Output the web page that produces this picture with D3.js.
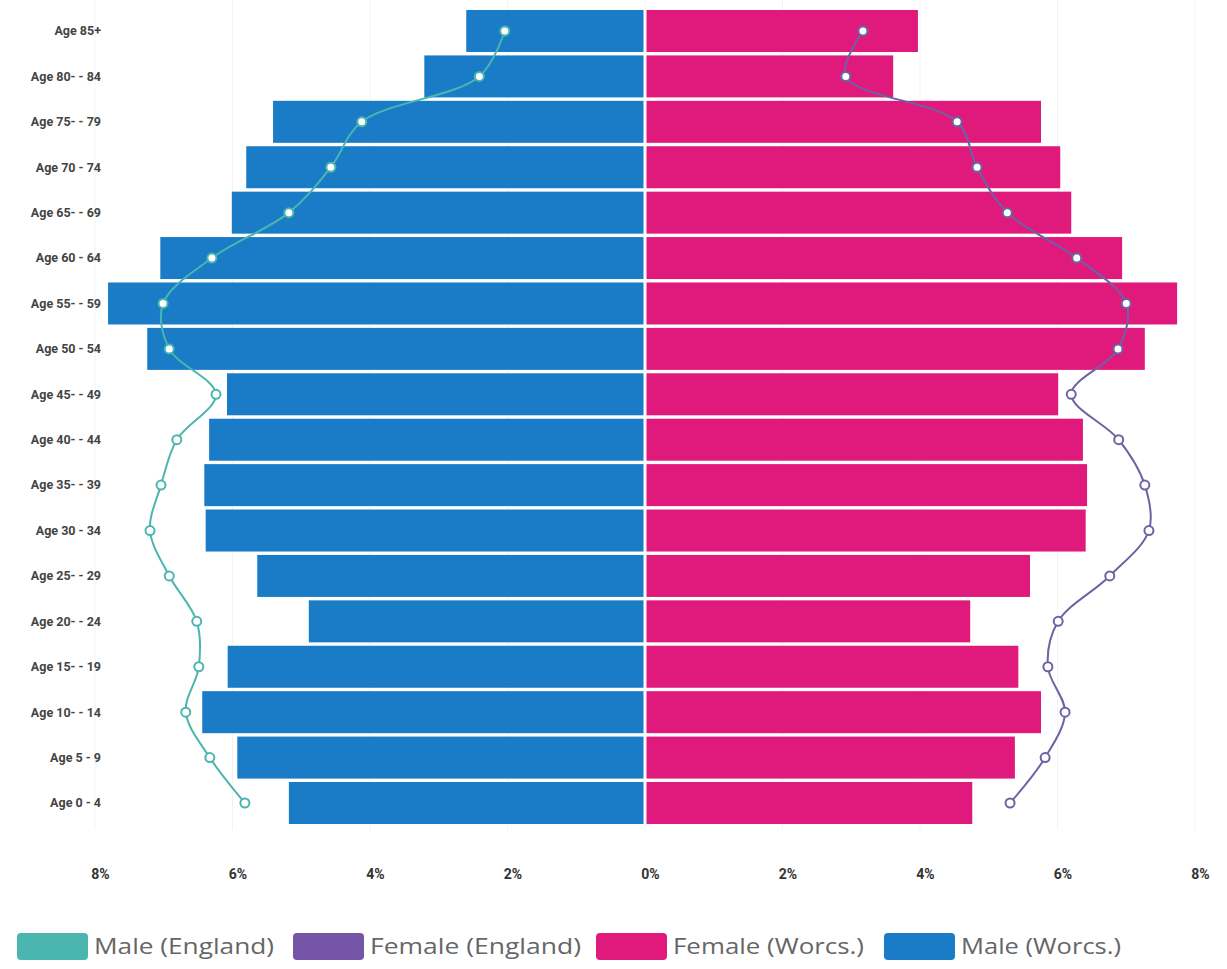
<!DOCTYPE html>
<html><head><meta charset="utf-8">
<script src="https://cdn.jsdelivr.net/npm/d3@7/dist/d3.min.js"></script>
<style>body{margin:0;background:#fff}svg{display:block}</style>
</head><body>
<svg id="c" width="1227" height="969"></svg>
<script>
const ageGroups = ["Age 85+","Age 80- - 84","Age 75- - 79","Age 70 - 74","Age 65- - 69","Age 60 - 64","Age 55- - 59","Age 50 - 54","Age 45- - 49","Age 40- - 44","Age 35- - 39","Age 30 - 34","Age 25- - 29","Age 20- - 24","Age 15- - 19","Age 10- - 14","Age 5 - 9","Age 0 - 4"];
const maleWorcs   = [2.60,3.21,5.41,5.80,6.01,7.05,7.81,7.24,6.08,6.34,6.41,6.39,5.64,4.89,6.07,6.44,5.93,5.18];
const femaleWorcs = [3.97,3.61,5.76,6.04,6.20,6.94,7.74,7.27,6.01,6.37,6.43,6.41,5.60,4.73,5.43,5.76,5.38,4.76];
const maleEngland = [2.04,2.41,4.12,4.57,5.18,6.30,7.01,6.92,6.24,6.81,7.04,7.20,6.92,6.52,6.49,6.68,6.33,5.82];
const femaleEngland=[3.17,2.92,4.54,4.83,5.27,6.28,7.00,6.88,6.20,6.89,7.27,7.33,6.76,6.01,5.86,6.11,5.82,5.31];
const xTicks = [-8,-6,-4,-2,0,2,4,6,8];
const legendItems = ["Male (England)","Female (England)","Female (Worcs.)","Male (Worcs.)"];

const C = {maleW:"#1a7cc6", femaleW:"#e01a7c", maleE:"#4bb5b0", femaleE:"#6c63a4", femaleELeg:"#7455a8"};
const svg = d3.select("#c");
const x = d3.scaleLinear().domain([-8,8]).range([95,1195]);
const y = d3.scaleBand().domain(ageGroups).range([10,824]).paddingInner(0.075).paddingOuter(0);

// faint gridlines
svg.append("g").selectAll("line").data(xTicks).join("line")
  .attr("x1",d=>x(d)).attr("x2",d=>x(d)).attr("y1",0).attr("y2",830)
  .attr("stroke","#f3f3f3").attr("stroke-width",1);

// bars
svg.append("g").selectAll("rect").data(ageGroups).join("rect")
  .attr("x",(d,i)=>x(-maleWorcs[i])).attr("y",d=>y(d))
  .attr("width",(d,i)=>x(0)-1.5-x(-maleWorcs[i])).attr("height",y.bandwidth())
  .attr("fill",C.maleW);
svg.append("g").selectAll("rect").data(ageGroups).join("rect")
  .attr("x",x(0)+1.5).attr("y",d=>y(d))
  .attr("width",(d,i)=>x(femaleWorcs[i])-x(0)-1.5).attr("height",y.bandwidth())
  .attr("fill",C.femaleW);

const cy = d=>y(d)+y.bandwidth()/2;
function series(vals, sign, color){
  const line = d3.line().x((v,i)=>x(sign*v)).y((v,i)=>cy(ageGroups[i])).curve(d3.curveCatmullRom.alpha(0.5));
  svg.append("path").attr("d",line(vals)).attr("fill","none").attr("stroke",color).attr("stroke-width",2);
  svg.append("g").selectAll("circle").data(vals).join("circle")
    .attr("cx",v=>x(sign*v)).attr("cy",(v,i)=>cy(ageGroups[i])).attr("r",4.5)
    .attr("fill","#fff").attr("stroke",color).attr("stroke-width",2);
}
series(maleEngland,-1,C.maleE);
series(femaleEngland,1,C.femaleE);

// y labels
svg.append("g").selectAll("text").data(ageGroups).join("text")
  .attr("x",101).attr("y",d=>cy(d)).attr("dy","0.35em").attr("text-anchor","end")
  .attr("font-family","Roboto, sans-serif").attr("font-weight","bold").attr("font-size",12.5)
  .attr("fill","#444").text(d=>d);

// x axis
const xa = svg.append("g").attr("transform","translate(5,876)")
  .call(d3.axisBottom(x).tickValues(xTicks).tickFormat(d=>Math.abs(d)+"%").tickSize(0));
xa.select(".domain").remove();
xa.selectAll("text").attr("font-family","Roboto, sans-serif").attr("font-weight","bold")
  .attr("font-size",14).attr("fill","#333").attr("dy","0");

// legend
const legColors=[C.maleE,C.femaleELeg,C.femaleW,C.maleW];
const legX=[17,293,596,884];
const lg = svg.append("g").selectAll("g").data(legendItems).join("g")
  .attr("transform",(d,i)=>`translate(${legX[i]},933)`);
lg.append("rect").attr("width",71).attr("height",27).attr("rx",4).attr("fill",(d,i)=>legColors[i]);
lg.append("text").attr("x",77).attr("y",14).attr("dy","0.35em")
  .attr("font-family","'Open Sans', sans-serif").attr("font-size",21).attr("fill","#666")
  .attr("textLength",(d,i)=>[180,211,191,160][i]).attr("lengthAdjust","spacingAndGlyphs")
  .text(d=>d);
</script>
</body></html>
